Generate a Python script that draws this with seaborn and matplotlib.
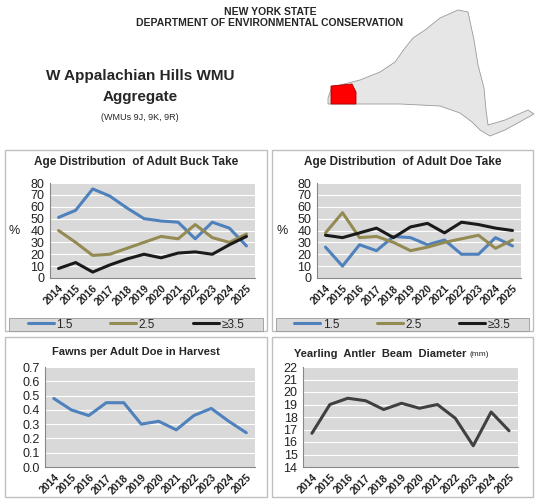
import matplotlib
matplotlib.use("Agg")
import matplotlib.pyplot as plt
from matplotlib.patches import Rectangle, Polygon
import seaborn as sns
import pandas as pd

years = [str(y) for y in range(2014, 2026)]

buck_15 = [51, 57, 75, 69, 59, 50, 48, 47, 33, 47, 42, 27]
buck_25 = [40, 30, 19, 20, 25, 30, 35, 33, 45, 34, 30, 37]
buck_35 = [8, 13, 5, 11, 16, 20, 17, 21, 22, 20, 28, 35]

doe_15 = [26, 10, 28, 23, 35, 34, 28, 32, 20, 20, 34, 27]
doe_25 = [38, 55, 34, 35, 30, 23, 26, 30, 33, 36, 25, 32]
doe_35 = [36, 34, 38, 42, 34, 43, 46, 38, 47, 45, 42, 40]

fawns = [0.48, 0.40, 0.36, 0.45, 0.45, 0.30, 0.32, 0.26, 0.36, 0.41, 0.32, 0.24]
beam = [16.7, 19.0, 19.5, 19.3, 18.6, 19.1, 18.7, 19.0, 17.9, 15.7, 18.4, 16.9]

age_labels = ["1.5", "2.5", "\u22653.5"]
age_colors = ["#4f81bd", "#948a54", "#1a1a1a"]

sns.set_style("white")
plt.rcParams["font.family"] = ["Liberation Sans", "DejaVu Sans"]

W, H = 538, 500
fig = plt.figure(figsize=(W / 100, H / 100), dpi=100)


def box(x0, y0, x1, y1):
    # pixel coords (top-left origin) -> figure fraction
    return [x0 / W, 1 - y1 / H, (x1 - x0) / W, (y1 - y0) / H]


def frame(x0, y0, x1, y1):
    fig.patches.append(Rectangle((x0 / W, 1 - y1 / H), (x1 - x0) / W, (y1 - y0) / H,
                                 transform=fig.transFigure, fill=False,
                                 edgecolor="#bfbfbf", lw=1))


def style_ax(ax, ylim, step, fmt):
    ax.set_facecolor("#d9d9d9")
    ax.set_ylim(*ylim)
    ticks = [ylim[0] + i * step for i in range(int(round((ylim[1] - ylim[0]) / step)) + 1)]
    ax.set_yticks(ticks)
    ax.set_yticklabels([fmt.format(t) for t in ticks], fontsize=9)
    ax.grid(axis="y", color="white", lw=0.8)
    ax.set_axisbelow(True)
    for s in ["top", "right"]:
        ax.spines[s].set_visible(False)
    ax.spines["left"].set_color("#888888")
    ax.spines["bottom"].set_color("#888888")
    ax.set_xlim(-0.5, len(years) - 0.5)
    ax.set_xticks(range(len(years)))
    ax.set_xticklabels(years, rotation=45, fontsize=7.5, fontweight="bold", ha="right",
                       rotation_mode="anchor")
    ax.tick_params(axis="both", length=3, pad=1, color="#888888", labelcolor="#222222")
    ax.set_xlabel("")
    ax.set_ylabel("")


def age_panel(x0, x1, series, title):
    frame(x0, 150, x1, 331)
    ax = fig.add_axes(box(x0 + 45, 183, x1 - 12, 278))
    df = pd.DataFrame({"year": years * 3,
                       "pct": series[0] + series[1] + series[2],
                       "age": sum([[a] * len(years) for a in age_labels], [])})
    sns.lineplot(data=df, x="year", y="pct", hue="age", palette=age_colors,
                 lw=2.2, ax=ax, legend=False, sort=False)
    style_ax(ax, (0, 80), 10, "{:.0f}")
    ax.text(-0.2, 0.5, "%", transform=ax.transAxes, fontsize=9, va="center",
            color="#222222")
    fig.text((x0 + x1) / 2 / W, 1 - 162 / H, title, ha="center", va="center",
             fontsize=8.5, fontweight="bold")
    # legend strip
    fig.patches.append(Rectangle(((x0 + 4) / W, 1 - 331 / H), (x1 - x0 - 8) / W, 13 / H,
                                 transform=fig.transFigure, facecolor="#d9d9d9",
                                 edgecolor="#999999", lw=0.6))
    handles = [plt.Line2D([], [], color=c, lw=2.2) for c in age_colors]
    fig.legend(handles, age_labels, loc="center", ncol=3, frameon=False,
               bbox_to_anchor=((x0 + x1) / 2 / W, 1 - 324.5 / H), fontsize=8.5,
               handlelength=2.2, handletextpad=0.2, columnspacing=3.2,
               borderaxespad=0, borderpad=0)


age_panel(5, 267, [buck_15, buck_25, buck_35], "Age Distribution  of Adult Buck Take")
age_panel(272, 533, [doe_15, doe_25, doe_35], "Age Distribution  of Adult Doe Take")

# fawns
frame(5, 337, 267, 497)
ax = fig.add_axes(box(45, 367, 255, 467))
sns.lineplot(x=years, y=fawns, color="#4f81bd", lw=2.2, ax=ax, sort=False)
style_ax(ax, (0, 0.7), 0.1, "{:.1f}")
fig.text(136 / W, 1 - 352 / H, "Fawns per Adult Doe in Harvest", ha="center",
         va="center", fontsize=8, fontweight="bold")

# beam
frame(272, 337, 533, 497)
ax = fig.add_axes(box(303, 367, 518, 467))
sns.lineplot(x=years, y=beam, color="#404040", lw=2.2, ax=ax, sort=False)
style_ax(ax, (14, 22), 1, "{:.0f}")
fig.text(466 / W, 1 - 354 / H, "Yearling  Antler  Beam  Diameter", ha="right",
         va="center", fontsize=8, fontweight="bold")
fig.text(469 / W, 1 - 354 / H, "(mm)", ha="left", va="center", fontsize=6)

# header
fig.text(270 / W, 1 - 12 / H, "NEW YORK STATE", ha="center", va="center",
         fontsize=7.5, fontweight="bold")
fig.text(270 / W, 1 - 23 / H, "DEPARTMENT OF ENVIRONMENTAL CONSERVATION", ha="center",
         va="center", fontsize=7.5, fontweight="bold")
fig.text(140 / W, 1 - 76 / H, "W Appalachian Hills WMU", ha="center", va="center",
         fontsize=11, fontweight="bold")
fig.text(140 / W, 1 - 97 / H, "Aggregate", ha="center", va="center",
         fontsize=11, fontweight="bold")
fig.text(140 / W, 1 - 117 / H, "(WMUs 9J, 9K, 9R)", ha="center", va="center",
         fontsize=6.5)

# rough state outline (decorative)
state = [(328, 98), (332, 87), (360, 80), (380, 72), (395, 62), (405, 48), (413, 38),
         (425, 30), (440, 18), (458, 10), (468, 12), (474, 40), (478, 65), (484, 88),
         (486, 110), (488, 125), (505, 120), (528, 110), (534, 114), (505, 130),
         (490, 136), (480, 130), (472, 122), (460, 113), (440, 106), (400, 104),
         (340, 104), (328, 104)]
fig.patches.append(Polygon([(x / W, 1 - y / H) for x, y in state], closed=True,
                           transform=fig.transFigure, facecolor="#e6e6e6",
                           edgecolor="#9a9a9a", lw=0.6))
region = [(331, 86), (352, 84), (356, 92), (356, 104), (331, 104)]
fig.patches.append(Polygon([(x / W, 1 - y / H) for x, y in region], closed=True,
                           transform=fig.transFigure, facecolor="#ff0000",
                           edgecolor="#aa0000", lw=0.6))

fig.savefig("out.png", dpi=100)
